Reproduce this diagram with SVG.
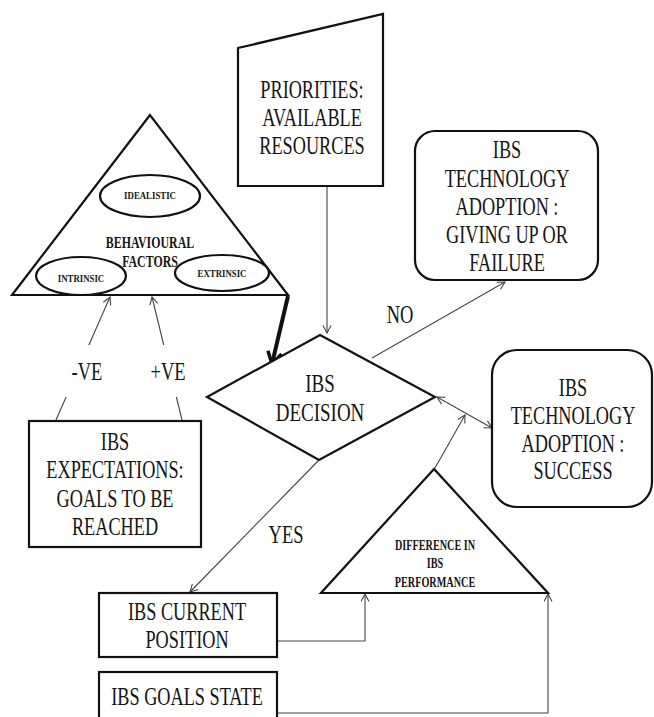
<svg xmlns="http://www.w3.org/2000/svg" width="654" height="717" viewBox="0 0 654 717" font-family="Liberation Serif, Times New Roman, serif">
<style>
  .shape{fill:#fff;stroke:#111;stroke-width:2.2}
  .conn{fill:none;stroke:#444;stroke-width:1.1}
  text{fill:#151515;text-anchor:middle}
  .t{font-size:25px}
  .tb{font-weight:bold}
</style>
<defs>
  <marker id="arr" markerUnits="userSpaceOnUse" markerWidth="12" markerHeight="12" refX="8" refY="4.5" orient="auto-start-reverse">
    <path d="M0.5,0.5 L8,4.5 L0.5,8.5" fill="none" stroke="#444" stroke-width="1.1"/>
  </marker>
  <marker id="arrthick" markerUnits="userSpaceOnUse" markerWidth="20" markerHeight="20" refX="13" refY="8" orient="auto">
    <path d="M1,1 L13,8 L1,15" fill="none" stroke="#111" stroke-width="3.5"/>
  </marker>
</defs>

<g id="connectors">
  <path class="conn" d="M327,186 L327,333" marker-end="url(#arr)"/>
  <path d="M288,296 L272,364" fill="none" stroke="#111" stroke-width="4" marker-end="url(#arrthick)"/>
  <path class="conn" d="M56,420 L110,297" marker-end="url(#arr)"/>
  <path class="conn" d="M182,420 L152,297" marker-end="url(#arr)"/>
  <path class="conn" d="M372,358 L505,282" marker-end="url(#arr)"/>
  <path class="conn" d="M437,397 L492,428" marker-start="url(#arr)" marker-end="url(#arr)"/>
  <path class="conn" d="M435,468 L465,415" marker-end="url(#arr)"/>
  <path class="conn" d="M319,460 L190,592" marker-end="url(#arr)"/>
  <path class="conn" d="M277,641 L365,641 L365,594" marker-end="url(#arr)"/>
  <path class="conn" d="M277,713 L548,713 L548,594" marker-end="url(#arr)"/>
  <g id="label-neg">
    <rect x="55" y="345" width="62" height="52" fill="#fff"/>
    <text class="t" transform="translate(87,0) scale(0.74,1)" x="0" y="380" font-size="24">-VE</text>
  </g>
  <g id="label-pos">
    <rect x="138" y="345" width="61" height="52" fill="#fff"/>
    <text class="t" transform="translate(168,0) scale(0.74,1)" x="0" y="380" font-size="24">+VE</text>
  </g>
  <text class="t" transform="translate(400,0) scale(0.74,1)" x="0" y="323" font-size="24">NO</text>
  <text class="t" transform="translate(286,0) scale(0.74,1)" x="0" y="543" font-size="24">YES</text>
</g>

<g id="behavioural-factors">
  <polygon class="shape" points="150,115 12,295 288,295" stroke-width="2.5"/>
  <ellipse class="shape" cx="150" cy="196" rx="50" ry="21"/>
  <ellipse class="shape" cx="81" cy="276" rx="45" ry="19"/>
  <ellipse class="shape" cx="222" cy="273" rx="47" ry="18"/>
  <text class="tb" transform="translate(150,0) scale(0.8,1)" x="0" y="199" font-size="11">IDEALISTIC</text>
  <text class="tb" transform="translate(81,0) scale(0.8,1)" x="0" y="282" font-size="11">INTRINSIC</text>
  <text class="tb" transform="translate(222,0) scale(0.8,1)" x="0" y="277" font-size="11">EXTRINSIC</text>
  <text class="tb" transform="translate(150,0) scale(0.7,1)" font-size="17"><tspan x="0" y="248">BEHAVIOURAL</tspan><tspan x="0" y="267">FACTORS</tspan></text>
</g>

<g id="priorities">
  <polygon class="shape" points="238,48 383,14 383,186 238,186"/>
  <text class="t" transform="translate(312,0) scale(0.73,1)"><tspan x="0" y="98">PRIORITIES:</tspan><tspan x="0" y="126">AVAILABLE</tspan><tspan x="0" y="154">RESOURCES</tspan></text>
</g>

<g id="failure">
  <rect class="shape" x="415" y="131" width="183" height="149" rx="20"/>
  <text class="t" transform="translate(507,0) scale(0.73,1)"><tspan x="0" y="158">IBS</tspan><tspan x="0" y="187">TECHNOLOGY</tspan><tspan x="0" y="215">ADOPTION :</tspan><tspan x="0" y="243">GIVING UP OR</tspan><tspan x="0" y="271">FAILURE</tspan></text>
</g>

<g id="decision">
  <polygon class="shape" points="320,335 435,397 319,460 207,397"/>
  <text class="t" transform="translate(320,0) scale(0.76,1)" font-size="24"><tspan x="0" y="392">IBS</tspan><tspan x="0" y="421">DECISION</tspan></text>
</g>

<g id="success">
  <rect class="shape" x="492" y="350" width="160" height="157" rx="25"/>
  <text class="t" transform="translate(573,0) scale(0.73,1)"><tspan x="0" y="396">IBS</tspan><tspan x="0" y="424">TECHNOLOGY</tspan><tspan x="0" y="452">ADOPTION :</tspan><tspan x="0" y="479">SUCCESS</tspan></text>
</g>

<g id="expectations">
  <rect class="shape" x="29" y="421" width="172" height="126"/>
  <text class="t" transform="translate(115,0) scale(0.73,1)"><tspan x="0" y="450">IBS</tspan><tspan x="0" y="478">EXPECTATIONS:</tspan><tspan x="0" y="507">GOALS TO BE</tspan><tspan x="0" y="535">REACHED</tspan></text>
</g>

<g id="difference">
  <polygon class="shape" points="434,469 321,593 548,593"/>
  <text class="tb" transform="translate(435,0) scale(0.68,1)" font-size="15"><tspan x="0" y="550">DIFFERENCE IN</tspan><tspan x="0" y="568">IBS</tspan><tspan x="0" y="587">PERFORMANCE</tspan></text>
</g>

<g id="current-position">
  <rect class="shape" x="99" y="593" width="178" height="64"/>
  <text class="t" transform="translate(187,0) scale(0.73,1)"><tspan x="0" y="620">IBS CURRENT</tspan><tspan x="0" y="648">POSITION</tspan></text>
</g>

<g id="goals-state">
  <rect class="shape" x="99" y="672" width="178" height="60"/>
  <text class="t" transform="translate(187,0) scale(0.73,1)" x="0" y="705">IBS GOALS STATE</text>
</g>
</svg>
